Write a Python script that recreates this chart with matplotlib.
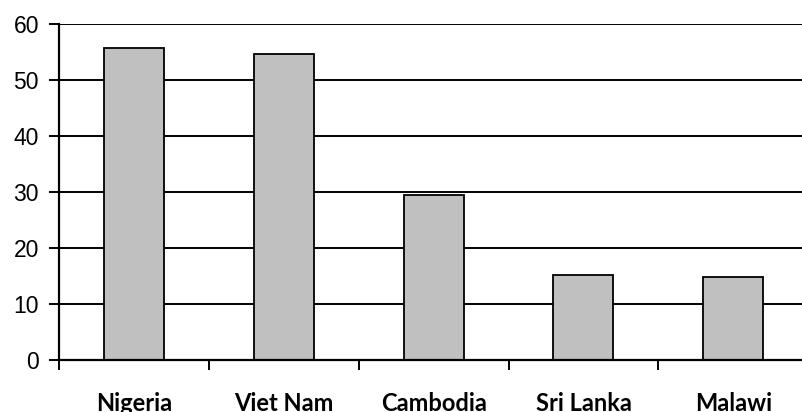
import matplotlib.pyplot as plt
import numpy as np

countries = ["Nigeria", "Viet Nam", "Cambodia", "Sri Lanka", "Malawi"]
values = [55.7, 54.6, 29.4, 15.2, 14.9]
y_ticks = [0, 10, 20, 30, 40, 50, 60]

fig = plt.figure(figsize=(8.03, 4.12), dpi=100)
ax = fig.add_axes([0.0735, 0.126, 0.933, 0.8155])

x = np.arange(len(countries))
ax.bar(x, values, width=0.4, color="#C0C0C0", edgecolor="black", linewidth=1.3, zorder=3)

ax.set_ylim(0, 60)
ax.set_xlim(-0.5, len(countries) - 0.5)
ax.set_yticks(y_ticks)
ax.set_yticklabels([str(t) for t in y_ticks], fontsize=16.5, family="Liberation Sans")
ax.yaxis.grid(True, color="black", linewidth=1.4, zorder=0)
ax.tick_params(axis="y", length=7, width=1.4, pad=7.5)

# labels under each bar, boundary ticks between categories
ax.set_xticks(x)
ax.set_xticklabels(countries, fontsize=17, fontweight="bold", family="Lato")
ax.tick_params(axis="x", which="major", length=0, pad=23)
ax.set_xticks(np.arange(len(countries) + 1) - 0.5, minor=True)
ax.tick_params(axis="x", which="minor", length=7.5, width=1.4)

for side in ["top", "right"]:
    ax.spines[side].set_visible(False)
ax.spines["left"].set_linewidth(1.6)
ax.spines["bottom"].set_linewidth(1.6)
ax.spines["left"].set_zorder(4)
ax.spines["bottom"].set_zorder(4)

fig.savefig("out.png", dpi=100)
